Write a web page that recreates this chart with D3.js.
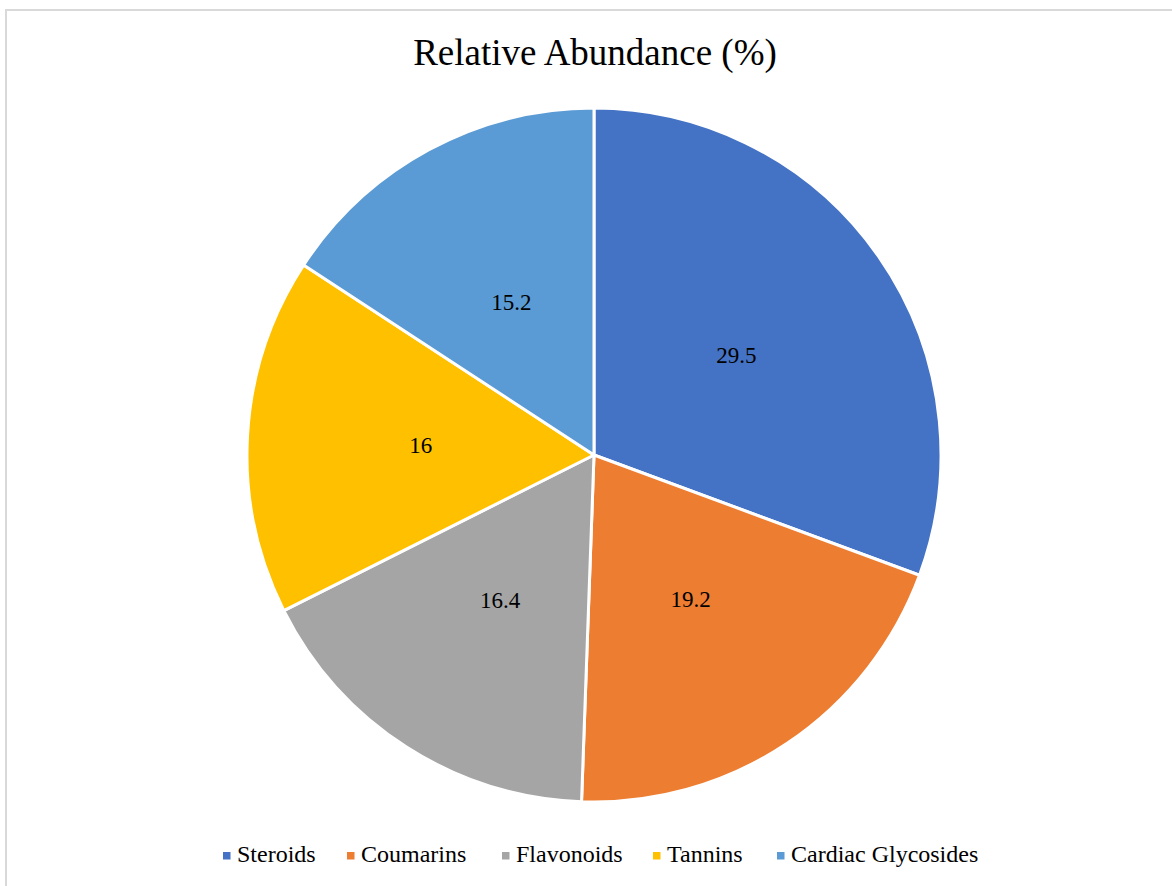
<!DOCTYPE html>
<html>
<head>
<meta charset="utf-8">
<script src="https://cdn.jsdelivr.net/npm/d3@7"></script>
<style>
  html, body { margin: 0; padding: 0; background: #fff; }
  svg { display: block; }
</style>
</head>
<body>
<svg id="chart" width="1172" height="886"></svg>
<script>
const categories = ["Steroids", "Coumarins", "Flavonoids", "Tannins", "Cardiac Glycosides"];
const values = [29.5, 19.2, 16.4, 16, 15.2];
const colors = ["#4472C4", "#ED7D31", "#A5A5A5", "#FFC000", "#5B9BD5"];
const title = "Relative Abundance (%)";

const W = 1172, H = 886;
const cx = 594, cy = 455, R = 347;
const FONT = "'Liberation Serif', 'Times New Roman', serif";
const svg = d3.select("#chart");

// outer border
svg.append("rect")
  .attr("x", 6).attr("y", 10)
  .attr("width", W + 10).attr("height", H + 10)
  .attr("fill", "#fff").attr("stroke", "#d9d9d9").attr("stroke-width", 2);

svg.append("text")
  .attr("x", 595).attr("y", 65)
  .attr("text-anchor", "middle")
  .attr("font-family", FONT)
  .attr("font-size", 37)
  .attr("fill", "#000")
  .text(title);

const data = categories.map((c, i) => ({ name: c, value: values[i], color: colors[i] }));
const pie = d3.pie().sort(null).value(d => d.value);
const arcs = pie(data);
const arc = d3.arc().innerRadius(0).outerRadius(R);
const labelArc = d3.arc().innerRadius(R * 0.5).outerRadius(R * 0.5);

const g = svg.append("g").attr("transform", `translate(${cx},${cy})`);
g.selectAll("path.slice").data(arcs).join("path")
  .attr("class", "slice")
  .attr("d", arc)
  .attr("fill", d => d.data.color)
  .attr("stroke", "#fff")
  .attr("stroke-width", 3)
  .attr("stroke-linejoin", "round");

g.selectAll("text.lbl").data(arcs).join("text")
  .attr("class", "lbl")
  .attr("transform", d => `translate(${labelArc.centroid(d)})`)
  .attr("text-anchor", "middle")
  .attr("dominant-baseline", "central")
  .attr("font-family", FONT)
  .attr("font-size", 23)
  .attr("fill", "#000")
  .text(d => d.data.value);

// legend
const legendX = [223, 347, 502, 653, 777];
const lg = svg.append("g");
data.forEach((d, i) => {
  const x = legendX[i];
  lg.append("rect")
    .attr("x", x).attr("y", 852)
    .attr("width", 7.5).attr("height", 7.5)
    .attr("fill", d.color);
  lg.append("text")
    .attr("x", x + 14).attr("y", 862)
    .attr("font-family", FONT)
    .attr("font-size", 24)
    .attr("fill", "#000")
    .text(d.name);
});
</script>
</body>
</html>
